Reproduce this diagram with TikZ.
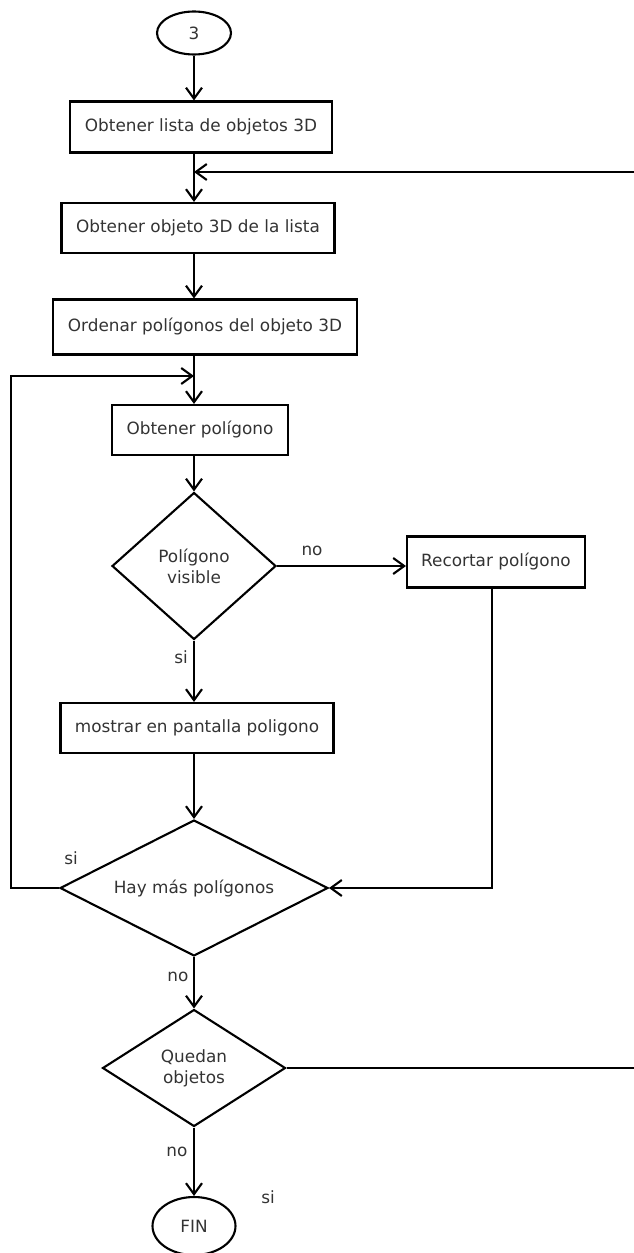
\documentclass[tikz,border=0pt]{standalone}
\usepackage{fontspec}
\setmainfont{DejaVu Sans}
\usetikzlibrary{arrows.meta,shapes.geometric}

\begin{document}
\begin{tikzpicture}[x=0.02cm,y=-0.02cm,line width=1.2pt,
  font=\fontsize{9.6}{12}\selectfont]
  \tikzstyle{ProcStyle}=[draw,rectangle,inner sep=0pt,text=black!80]
  \tikzstyle{DecStyle}=[draw,diamond,inner sep=0pt,align=center,text=black!80]
  \tikzstyle{TermStyle}=[draw,ellipse,inner sep=0pt,text=black!80]
  \tikzstyle{EdgeStyle}=[-{Straight Barb[length=2.2mm,width=3.2mm]}]
  \tikzstyle{LabelStyle}=[inner sep=0pt,text=black!80]
  \useasboundingbox (0,0) rectangle (634,1253);
  \node[TermStyle,minimum width=1.48cm,minimum height=0.86cm] (start) at (194,33) {3};
  \node[ProcStyle,minimum width=5.24cm,minimum height=1.02cm] (lista) at (201,127) {Obtener lista de objetos 3D};
  \node[ProcStyle,minimum width=5.46cm,minimum height=1.0cm] (objeto) at (198,228) {Obtener objeto 3D de la lista};
  \node[ProcStyle,minimum width=6.08cm,minimum height=1.1cm] (ordenar) at (205,327) {Ordenar polígonos del objeto 3D};
  \node[ProcStyle,minimum width=3.52cm,minimum height=1.0cm] (poligono) at (200,430) {Obtener polígono};
  \node[DecStyle,aspect=1.1,minimum width=3.28cm,minimum height=2.94cm] (visible) at (194,566) {Polígono\\visible};
  \node[ProcStyle,minimum width=3.56cm,minimum height=1.02cm] (recortar) at (496,562) {Recortar polígono};
  \node[ProcStyle,minimum width=5.46cm,minimum height=1.0cm] (mostrar) at (197,728) {mostrar en pantalla poligono};
  \node[DecStyle,aspect=2,minimum width=5.36cm,minimum height=2.72cm] (haymas) at (194,888) {Hay más polígonos};
  \node[DecStyle,aspect=1.56,minimum width=3.66cm,minimum height=2.34cm] (quedan) at (194,1068) {Quedan\\objetos};
  \node[TermStyle,minimum width=1.66cm,minimum height=1.16cm] (fin) at (194,1226) {FIN};
  \coordinate (join1) at (194,172);
  \coordinate (join2) at (194,376);
  % flujo principal
  \draw[EdgeStyle] (start) -- (start |- lista.north);
  \draw[EdgeStyle] (lista.south -| start) -- (objeto.north -| start);
  \draw[EdgeStyle] (objeto.south -| start) -- (ordenar.north -| start);
  \draw[EdgeStyle] (ordenar.south -| start) -- (poligono.north -| start);
  \draw[EdgeStyle] (poligono.south -| visible) -- (visible.north);
  \draw[EdgeStyle] (visible.east) -- (recortar.west |- visible.east);
  \draw[EdgeStyle] (visible.south) -- (mostrar.north -| visible);
  \draw[EdgeStyle] (mostrar.south -| haymas) -- (haymas.north);
  \draw[EdgeStyle] (recortar.south -| 492,0) |- (haymas.east);
  \draw[EdgeStyle] (haymas.west) -- ++(-48,0) |- (join2);
  \draw[EdgeStyle] (haymas.south) -- (quedan.north);
  \draw[EdgeStyle] (quedan.south) -- (fin.north);
  \draw[EdgeStyle] (quedan.east) -| (650,172) -- (join1);
  % etiquetas
  \node[LabelStyle] (lno1) at (312,551) {no};
  \node[LabelStyle] (lsi1) at (181,657) {si};
  \node[LabelStyle] (lsi2) at (71,858) {si};
  \node[LabelStyle] (lno2) at (178,977) {no};
  \node[LabelStyle] (lno3) at (177,1152) {no};
  \node[LabelStyle] (lsi3) at (268,1197) {si};
\end{tikzpicture}
\end{document}
